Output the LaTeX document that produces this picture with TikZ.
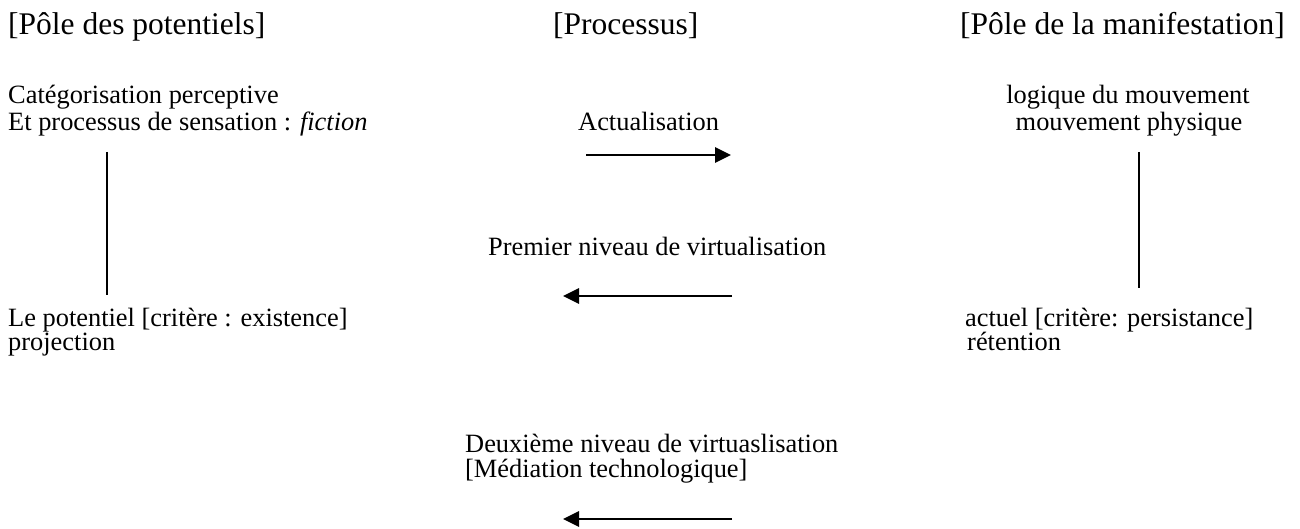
\documentclass[tikz,border=0pt]{standalone}
\usepackage{fontspec}
\setmainfont{Liberation Serif}
\usetikzlibrary{arrows.meta}
\begin{document}
\begin{tikzpicture}[x=1pt,y=-1pt,
  head/.style={font=\fontsize{31.5}{36}\selectfont, inner sep=0pt, anchor=base west},
  txt/.style={font=\fontsize{26.4}{30}\selectfont, inner sep=0pt, anchor=base west},
  txtc/.style={txt, anchor=base},
  flow/.style={line width=2.8pt, -{Triangle[length=16pt,width=15pt]}},
  link/.style={line width=1.7pt}]
\useasboundingbox (0,0) rectangle (1300,529);
% headers
\node[head] (h1) at (8,35) {[Pôle des potentiels]};
\node[head] (h2) at (553,35) {[Processus]};
\node[head] (h3) at (960,35) {[Pôle de la manifestation]};
% left column
\node[txt] (l1) at (8,104) {Catégorisation perceptive};
\node[txt] (l2) at (8,131) {Et processus de sensation : \textit{fiction}};
\node[txt] (l3) at (8,326) {Le potentiel [critère : existence]};
\node[txt] (l4) at (8,350) {projection};
% right column
\node[txtc] (r1) at (1128,104) {logique du mouvement};
\node[txtc] (r2) at (1129,131) {mouvement physique};
\node[txt] (r3) at (965,326) {actuel [critère: persistance]};
\node[txt] (r4) at (967,350) {rétention};
% middle
\node[txt] (m1) at (578,131) {Actualisation};
\node[txt] (m2) at (488,255) {Premier niveau de virtualisation};
\node[txt] (m3) at (465,452) {Deuxième niveau de virtuaslisation};
\node[txt] (m4) at (465,477) {[Médiation technologique]};
% connector ends
\coordinate (va1) at (107,152);
\coordinate (va2) at (107,295);
\coordinate (vb1) at (1139,152);
\coordinate (vb2) at (1139,288);
\coordinate (a1s) at (586,155);
\coordinate (a1e) at (731,155);
\coordinate (a2s) at (732,296);
\coordinate (a2e) at (563,296);
\coordinate (a3s) at (732,519);
\coordinate (a3e) at (563,519);
\draw[link] (va1) -- (va2);
\draw[link] (vb1) -- (vb2);
\draw[flow] (a1s) -- (a1e);
\draw[flow] (a2s) -- (a2e);
\draw[flow] (a3s) -- (a3e);
\end{tikzpicture}
\end{document}
